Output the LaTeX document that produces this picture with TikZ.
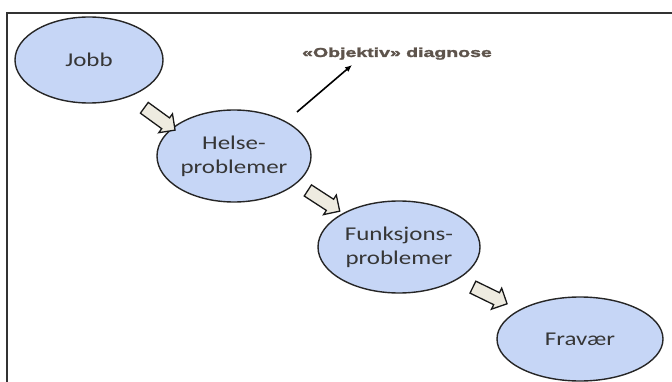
\documentclass[tikz,border=0pt]{standalone}
\usepackage{fontspec}
\newfontfamily\labelfont[FakeStretch=1.28]{Carlito}
\newfontfamily\notefont[FakeStretch=1.5,FakeBold=2]{Liberation Sans Bold}
\usetikzlibrary{shapes.geometric,shapes.arrows,arrows.meta}
\definecolor{bubblefill}{HTML}{C6D6F6}
\definecolor{bubbletext}{HTML}{363636}
\definecolor{flowfill}{HTML}{EEEBE0}
\definecolor{notecolor}{HTML}{5E544C}
\tikzset{
  bubble/.style={ellipse, draw=black!85, line width=1.4pt, fill=bubblefill,
    inner xsep=-14pt, inner ysep=-4pt, align=center, text=bubbletext,
    font=\labelfont\fontsize{19.5}{24}\selectfont},
  flowarrow/.style={single arrow, draw=black!90, line width=1.3pt, fill=flowfill,
    inner xsep=0pt, inner ysep=6pt, minimum height=38pt,
    single arrow head extend=5pt, single arrow head indent=0pt},
  frame/.style={draw=black!80, line width=1.6pt},
}
\begin{document}
\begin{tikzpicture}[x=1pt,y=-1pt]
  \useasboundingbox (0,0) rectangle (672,382);
  % open frame: top and left edges only
  \draw[frame] (7,382) -- (7,13) -- (672,13);

  % causal chain
  \node[bubble, minimum width=148pt, minimum height=86pt] (jobb)  at (89,60)   {Jobb};
  \node[bubble, minimum width=154pt, minimum height=92pt] (helse) at (234,156) {Helse-\\problemer};
  \node[bubble, minimum width=162pt, minimum height=92pt] (funk)  at (399,247) {Funksjons-\\problemer};
  \node[bubble, minimum width=166pt, minimum height=84pt] (frav)  at (580,339) {Fravær};

  % block arrows between the steps
  \node[flowarrow, rotate=-36] (a1) at (157,117) {};
  \node[flowarrow, rotate=-33] (a2) at (321,199) {};
  \node[flowarrow, rotate=-26] (a3) at (487,294) {};

  % note on the health problems
  \node[text=notecolor, font=\notefont\fontsize{13}{15}\selectfont,
        anchor=base] (diag) at (397,57) {«Objektiv» diagnose};
  \coordinate (d0) at (297,112);
  \coordinate (d1) at (352,65);
  \draw[line width=1.6pt, -{Latex[length=7pt,width=6pt]}] (d0) -- (d1);
\end{tikzpicture}
\end{document}
